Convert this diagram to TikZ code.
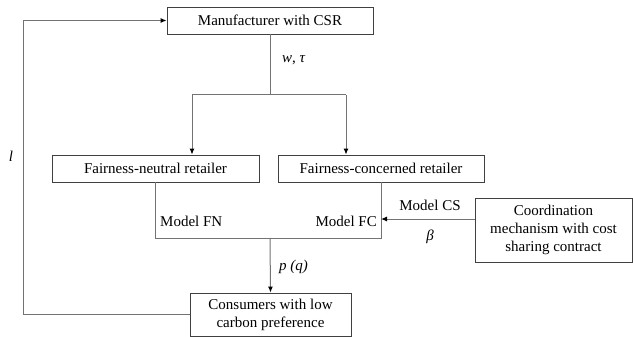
\documentclass[tikz,border=0pt]{standalone}
\usepackage{fontspec}
\setmainfont{Liberation Serif}
\usetikzlibrary{arrows.meta}
\tikzset{
  box/.style={draw=black!75, line width=0.9pt, inner sep=0pt, align=center, font=\fontsize{15}{18}\selectfont},
  conn/.style={draw=black!55, line width=1pt},
  arr/.style={conn, -{Latex[length=6pt,width=5pt,fill=black,color=black]}},
  lbl/.style={inner sep=0pt, font=\fontsize{15}{18}\selectfont}
}
\begin{document}
\begin{tikzpicture}[x=1pt,y=-1pt]
\useasboundingbox (0,0) rectangle (633,337);
\node[box, minimum width=206pt, minimum height=27pt] (man) at (270,20.5) {Manufacturer with CSR};
\node[box, minimum width=207pt, minimum height=27pt] (fn) at (155.5,168.5) {Fairness-neutral retailer};
\node[box, minimum width=206pt, minimum height=27pt] (fc) at (381,168.5) {Fairness-concerned retailer};
\node[box, minimum width=161pt, minimum height=43pt] (con) at (270.5,314.5) {Consumers with low\\carbon preference};
\node[box, minimum width=157pt, minimum height=64pt] (coord) at (553.5,230) {Coordination\\mechanism with cost\\sharing contract};
\coordinate (split) at (270,95);
\coordinate (a1) at (192,95);
\coordinate (a2) at (346,95);
\coordinate (b1) at (fn.south |- 0,238);
\coordinate (b2) at (fc.south |- 0,238);
\coordinate (join) at (270,238);
\coordinate (cs) at (coord.west |- 0,219);
\coordinate (csend) at (fc.south |- cs);
\coordinate (l1) at (23,314.5);
\coordinate (l2) at (23,20.5);
\draw[conn] (man.south) -- (split);
\draw[conn] (a1) -- (a2);
\draw[arr] (a1) -- (a1 |- fn.north);
\draw[arr] (a2) -- (a2 |- fc.north);
\draw[conn] (fn.south) -- (b1) -- (b2) -- (fc.south);
\draw[arr] (join) -- (con.north);
\draw[arr] (cs) -- (csend);
\draw[arr] (con.west) -- (l1) -- (l2) -- (man.west);
\node[lbl, anchor=west] (wt) at (282,60) {\textit{w}, \textit{τ}};
\node[lbl, anchor=west] (mfn) at (160,221) {Model FN};
\node[lbl, anchor=east] (mfc) at (377,221) {Model FC};
\node[lbl] (mcs) at (430,205) {Model CS};
\node[lbl] (beta) at (430,237) {\textit{β}};
\node[lbl, anchor=west] (pq) at (279,267) {\textit{p (q)}};
\node[lbl] (ell) at (11,156) {\textit{l}};
\end{tikzpicture}
\end{document}
